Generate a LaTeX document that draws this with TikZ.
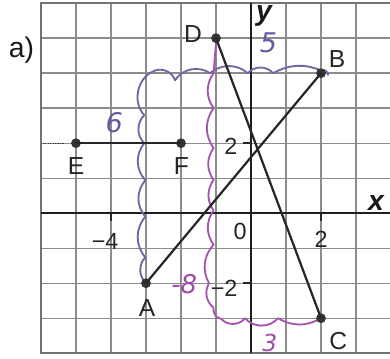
\documentclass[tikz,border=0pt]{standalone}
\usepackage{fontspec}
\setmainfont{Liberation Sans}
\newfontfamily\handfont{DejaVu Sans}
\begin{document}
\begin{tikzpicture}[x=1cm,y=1cm,
  gridline/.style={draw=black!45, line width=1.1pt},
  borderline/.style={draw=black!55, line width=1.6pt},
  axisline/.style={draw=black!88, line width=1.9pt},
  segline/.style={draw=black!85, line width=1.8pt},
  ptdot/.style={circle, fill=black!80, inner sep=0pt, minimum size=0.28cm},
  ptlabel/.style={text=black!85, font=\fontsize{20}{24}\selectfont, inner sep=0pt},
  numlabel/.style={text=black!85, font=\fontsize{19}{23}\selectfont, inner sep=0pt},
  axlabel/.style={text=black!90, font=\fontsize{23}{27}\selectfont\itshape\bfseries, inner sep=0pt},
  bluebrace/.style={draw={rgb,255:red,110;green,104;blue,160}, line width=1.5pt, line cap=round, line join=round},
  magbrace/.style={draw={rgb,255:red,165;green,85;blue,175}, line width=1.5pt, line cap=round, line join=round},
  bluehand/.style={text={rgb,255:red,100;green,92;blue,160}, font=\fontsize{22}{26}\selectfont\handfont\itshape, inner sep=0pt},
  maghand/.style={text={rgb,255:red,160;green,75;blue,170}, font=\fontsize{21}{25}\selectfont\handfont\itshape, inner sep=0pt}
]
\useasboundingbox (-7.17,-4.14) rectangle (3.97,6.09);
\fill[white] (-7.17,-4.14) rectangle (3.97,6.09);
% grid
\draw[gridline] (-6,-4) grid (3.97,6);
\draw[borderline] (3.97,6) -- (-6,6) -- (-6,-4) -- (3.97,-4);
% axes
\draw[axisline] (-6,0) -- (3.97,0);
\draw[axisline] (0,-4) -- (0,6);
% ticks
\draw[black!85, line width=1.2pt] (-4,0) -- (-4,-0.22);
\draw[black!85, line width=1.2pt] (2,0) -- (2,-0.22);
\draw[black!85, line width=1.2pt] (-0.22,2) -- (0,2);
\draw[black!85, line width=1.2pt] (-0.22,-2) -- (0,-2);
% axis labels
\node[axlabel] (xlab) at (3.57,0.29) {x};
\node[axlabel] (ylab) at (0.37,5.62) {y};
\node[numlabel, anchor=east] (nm4) at (-3.78,-0.8) {−4};
\node[numlabel] (n0) at (-0.31,-0.51) {0};
\node[numlabel] (nx2) at (2.0,-0.74) {2};
\node[numlabel, anchor=east] (ny2) at (-0.38,1.91) {2};
\node[numlabel, anchor=east] (nym2) at (-0.38,-2.14) {−2};
\node[text=black!90, font=\fontsize{23}{27}\selectfont, inner sep=0pt] (parta) at (-6.56,4.66) {a)};
% handwritten braces
\draw[bluebrace] (-3,-2) to[bend left=45] (-3.02,-1.26) to[bend left=40] (-3.02,-0.1)
  to[bend left=40] (-3.02,0.94) to[bend left=40] (-3.05,2.0) to[bend left=45] (-3.05,2.8)
  to[bend left=55] (-2.8,4.05) to[bend left=50] (-2.17,3.8) to[bend left=45] (-1.17,4.0)
  to[bend left=40] (-0.09,4.0) to[bend left=50] (0.63,4.0) to[bend left=25] (2.0,4.08)
  to[bend left=60] (2.2,3.95);
\draw[magbrace] (-1,4.85) -- (-1.07,4.0) to[bend right=35] (-1.07,3.0) to[bend right=35] (-1.07,1.86)
  to[bend right=35] (-1.07,0.95) to[bend right=35] (-1.07,0.08) to[bend right=35] (-1.07,-0.9)
  to[bend right=35] (-1.2,-2.0) to[bend right=40] (-1.07,-2.7) to[bend right=45] (-0.85,-3.02)
  to[bend right=50] (-0.17,-3.0) to[bend right=50] (0.77,-3.0) to[bend right=30] (2,-3);
\node[bluehand] (hand5) at (0.5,4.86) {5};
\node[bluehand] (hand6) at (-3.91,2.6) {6};
\node[maghand] (hand8) at (-1.91,-2.02) {-8};
\node[maghand, font=\fontsize{19}{23}\selectfont\handfont\itshape] (hand3) at (0.54,-3.72) {3};
% points
\node[ptdot] (A) at (-3,-2) {};
\node[ptdot] (B) at (2,4) {};
\node[ptdot] (C) at (2,-3) {};
\node[ptdot] (D) at (-1,5) {};
\node[ptdot] (E) at (-5,2) {};
\node[ptdot] (F) at (-2,2) {};
\coordinate (dotend) at (-5.95,2);
\coordinate (dotstart) at (-5.35,2);
\draw[black!80, line width=1pt, densely dotted] (dotend) -- (dotstart);
% segments
\draw[segline] (A.center) -- (B.center);
\draw[segline] (D.center) -- (C.center);
\draw[segline] (E.center) -- (F.center);
% point labels
\node[ptlabel] (lA) at (-2.97,-2.71) {A};
\node[ptlabel] (lB) at (2.46,4.4) {B};
\node[ptlabel] (lC) at (2.49,-3.66) {C};
\node[ptlabel] (lD) at (-1.66,5.11) {D};
\node[ptlabel] (lE) at (-5.0,1.34) {E};
\node[ptlabel] (lF) at (-1.99,1.34) {F};
\end{tikzpicture}
\end{document}
